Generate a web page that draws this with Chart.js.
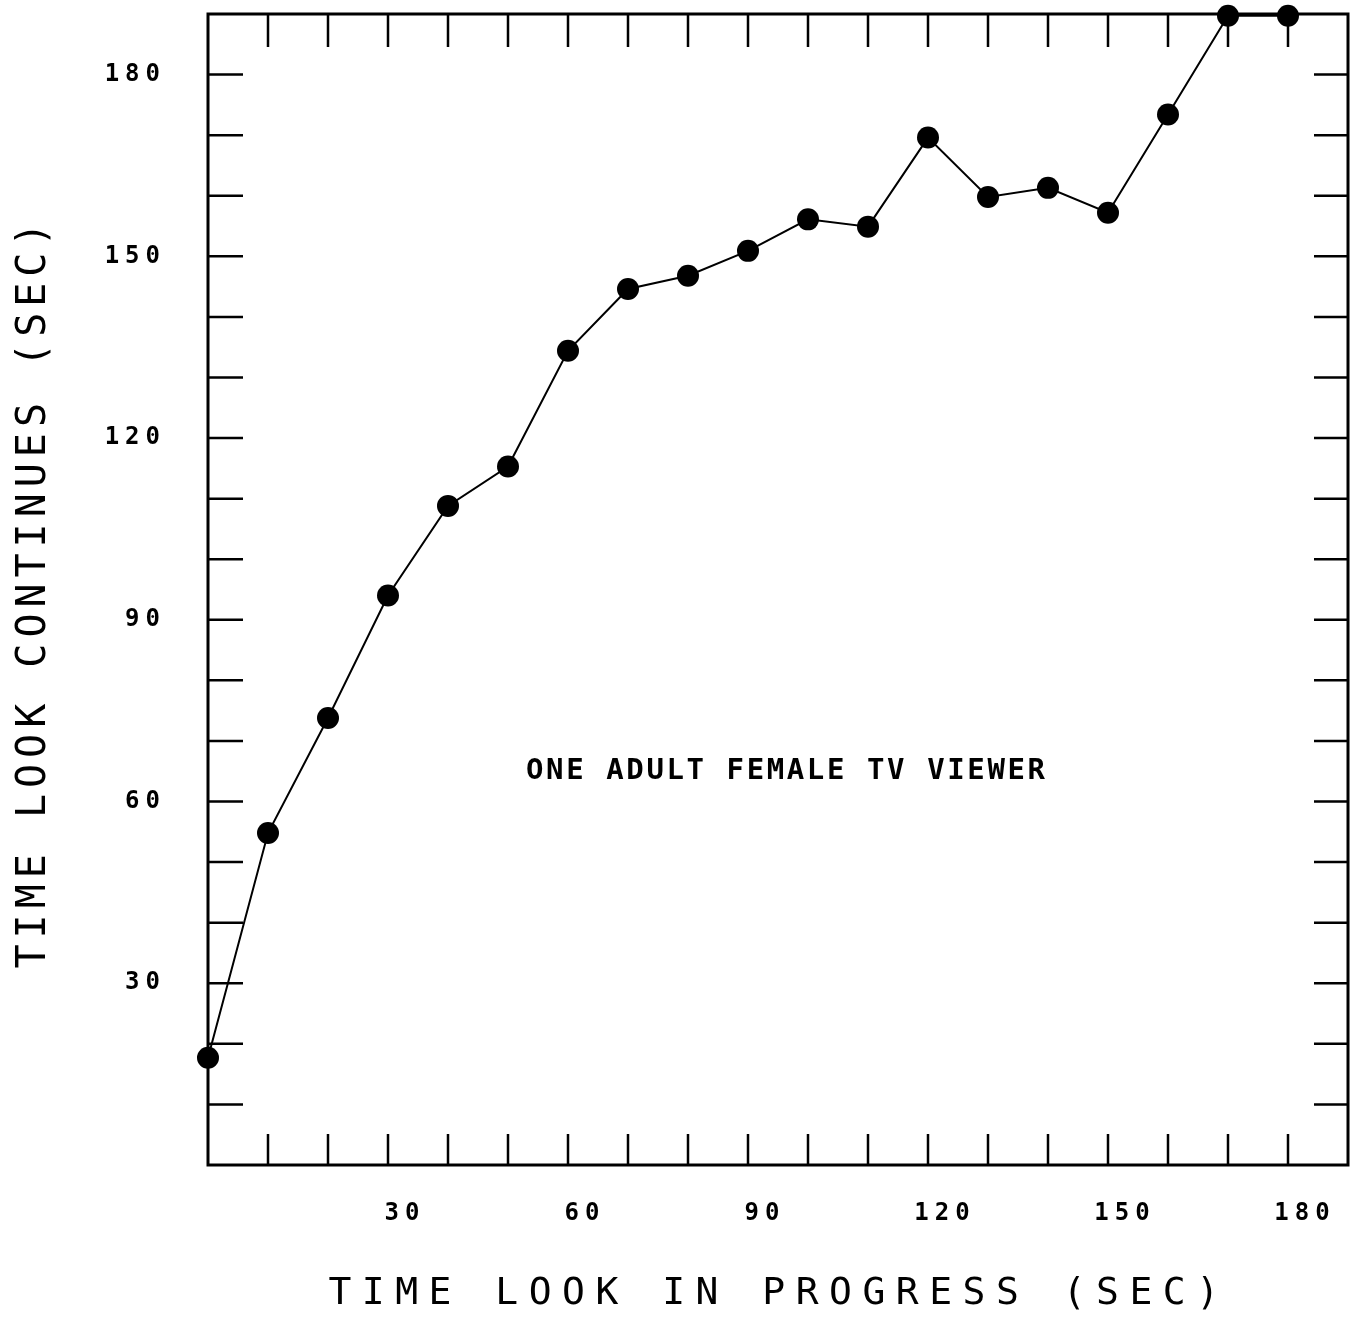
<!DOCTYPE html>
<html>
<head>
<meta charset="utf-8">
<title>Time look continues vs time look in progress</title>
<script src="https://cdn.jsdelivr.net/npm/chart.js@4.4.1/dist/chart.umd.min.js"></script>
<style>
  html, body { margin: 0; padding: 0; background: #fff; }
</style>
</head>
<body>
<canvas id="myChart" width="1351" height="1317"></canvas>
<script>
// Datos (segundos)
const timeInProgress = [0, 10, 20, 30, 40, 50, 60, 70, 80, 90, 100, 110, 120, 130, 140, 150, 160, 170, 180];
const timeContinues = [17.7, 54.8, 73.8, 94.0, 108.8, 115.3, 134.4, 144.6, 146.8, 150.9, 156.1, 154.9, 169.6, 159.8, 161.3, 157.2, 173.4, 189.7, 189.7];
const xTickLabels = [30, 60, 90, 120, 150, 180];
const yTickLabels = [30, 60, 90, 120, 150, 180];
const xTitle = 'TIME LOOK IN PROGRESS (SEC)';
const yTitle = 'TIME LOOK CONTINUES (SEC)';
const noteText = 'ONE ADULT FEMALE TV VIEWER';
const notePos = { x: 96.3, y: 64.9 };

const FONT = '"DejaVu Sans Mono", "Liberation Mono", monospace';

// quitar el relleno automático que Chart.js reserva para las etiquetas
function fijarTamano(scale, prop, value) {
    scale[prop] = value;
    scale.paddingTop = 0;
    scale.paddingBottom = 0;
    scale.paddingLeft = 0;
    scale.paddingRight = 0;
}

// marco, marcas hacia dentro y textos espaciados (estilo plotter)
const plotterFrame = {
    id: 'plotterFrame',
    beforeDraw(chart) {
        chart.ctx.letterSpacing = '6px';
    },
    afterDraw(chart) {
        const { ctx, chartArea: a, scales: { x, y } } = chart;
        ctx.save();
        ctx.strokeStyle = '#000';
        ctx.lineWidth = 3;
        ctx.strokeRect(a.left, a.top, a.right - a.left, a.bottom - a.top);

        ctx.lineWidth = 2.5;
        ctx.beginPath();
        x.ticks.forEach(t => {
            if (t.value <= x.min || t.value >= x.max) return;
            const px = x.getPixelForValue(t.value);
            ctx.moveTo(px, a.bottom); ctx.lineTo(px, a.bottom - 31);
            ctx.moveTo(px, a.top); ctx.lineTo(px, a.top + 33);
        });
        y.ticks.forEach(t => {
            if (t.value <= y.min || t.value >= y.max) return;
            const py = y.getPixelForValue(t.value);
            ctx.moveTo(a.left, py); ctx.lineTo(a.left + 35, py);
            ctx.moveTo(a.right, py); ctx.lineTo(a.right - 34, py);
        });
        ctx.stroke();

        ctx.fillStyle = '#000';
        ctx.textAlign = 'center';
        ctx.textBaseline = 'middle';

        // título eje X
        ctx.font = '38px ' + FONT;
        ctx.letterSpacing = '10.5px';
        ctx.fillText(xTitle, (x.left + x.right) / 2 + 1, x.bottom - 23);

        // título eje Y
        ctx.save();
        ctx.font = '40px ' + FONT;
        ctx.letterSpacing = '6px';
        ctx.translate(y.left + 35, (y.top + y.bottom) / 2 + 3);
        ctx.rotate(-Math.PI / 2);
        ctx.fillText(yTitle, 0, 0);
        ctx.restore();

        // anotación
        ctx.font = 'bold 29px ' + FONT;
        ctx.letterSpacing = '2.6px';
        ctx.fillText(noteText, x.getPixelForValue(notePos.x) + 1, y.getPixelForValue(notePos.y));
        ctx.restore();
    }
};

new Chart(document.getElementById('myChart'), {
    type: 'line',
    data: {
        datasets: [{
            data: timeInProgress.map((t, i) => ({ x: t, y: timeContinues[i] })),
            borderColor: '#000',
            borderWidth: 2,
            pointRadius: 11,
            pointBackgroundColor: '#000',
            pointBorderWidth: 0,
            tension: 0,
            clip: false
        }]
    },
    options: {
        responsive: false,
        animation: false,
        layout: { autoPadding: false, padding: { top: 14, right: 3, left: 0, bottom: 0 } },
        plugins: {
            legend: { display: false },
            tooltip: { enabled: false }
        },
        scales: {
            x: {
                type: 'linear',
                min: 0,
                max: 190,
                afterFit: s => fijarTamano(s, 'height', 152),
                grid: { display: false, drawTicks: false },
                border: { display: false },
                ticks: {
                    stepSize: 10,
                    autoSkip: false,
                    maxRotation: 0,
                    padding: 34,
                    labelOffset: 17,
                    color: '#000',
                    font: { family: FONT, size: 24, weight: 'bold' },
                    callback: v => xTickLabels.includes(v) ? String(v) : ''
                }
            },
            y: {
                type: 'linear',
                min: 0,
                max: 190,
                afterFit: s => fijarTamano(s, 'width', 208),
                grid: { display: false, drawTicks: false },
                border: { display: false },
                ticks: {
                    stepSize: 10,
                    autoSkip: false,
                    padding: 42,
                    color: '#000',
                    font: { family: FONT, size: 24, weight: 'bold' },
                    callback: v => yTickLabels.includes(v) ? String(v) : ''
                }
            }
        }
    },
    plugins: [plotterFrame]
});
</script>
</body>
</html>
